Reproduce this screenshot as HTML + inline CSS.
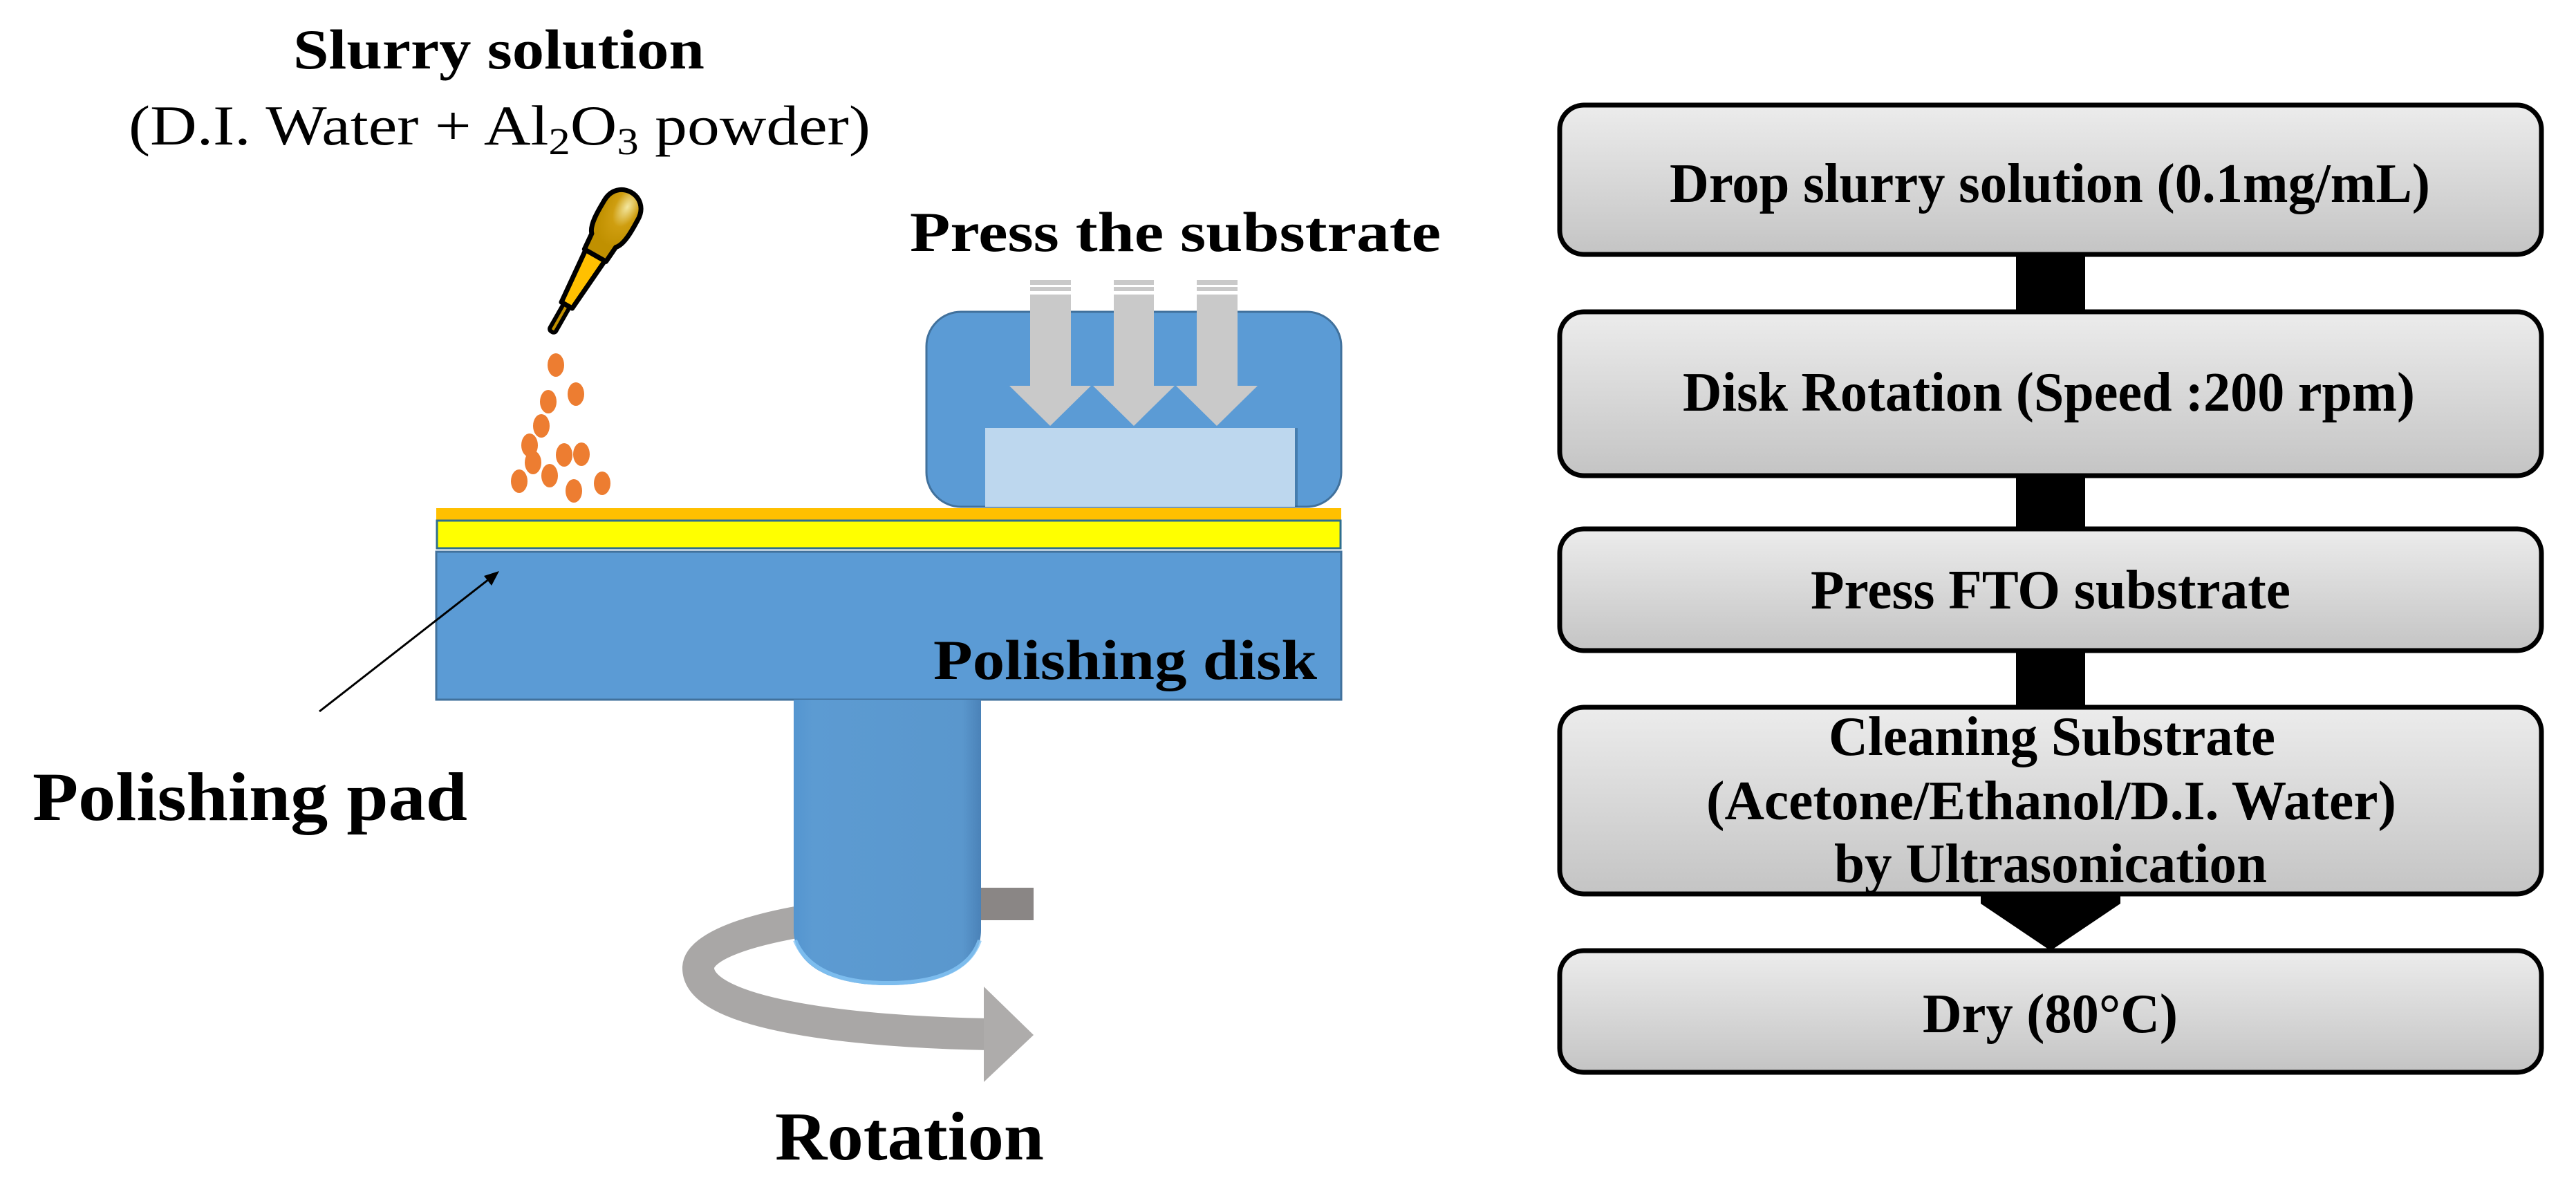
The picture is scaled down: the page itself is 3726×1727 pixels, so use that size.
<!DOCTYPE html>
<html><head><meta charset="utf-8"><style>
html,body{margin:0;padding:0;background:#fff;}
svg{display:block;}
text{font-family:"Liberation Serif",serif;}
</style></head><body>
<svg width="3726" height="1727" viewBox="0 0 3726 1727" xmlns="http://www.w3.org/2000/svg">
<defs>
<linearGradient id="bx" x1="0" y1="0" x2="0" y2="1">
<stop offset="0" stop-color="#ececec"/><stop offset="1" stop-color="#c4c4c4"/>
</linearGradient>
<linearGradient id="cyl" x1="0" y1="0" x2="1" y2="0">
<stop offset="0" stop-color="#5495d0"/><stop offset="0.1" stop-color="#5c9bd2"/><stop offset="0.9" stop-color="#5a97cd"/><stop offset="1" stop-color="#4a82b8"/>
</linearGradient>
<radialGradient id="bulb" cx="0.6" cy="0.2" r="0.6">
<stop offset="0" stop-color="#f3e7a0"/><stop offset="0.5" stop-color="#cf9e10"/><stop offset="1" stop-color="#c09000"/>
</radialGradient>
</defs>

<!-- Left texts -->
<text x="424" y="99" font-size="82" font-weight="bold" textLength="595" lengthAdjust="spacingAndGlyphs">Slurry solution</text>
<text x="186" y="209" font-size="82" textLength="1073" lengthAdjust="spacingAndGlyphs">(D.I. Water + Al<tspan font-size="55" dy="14">2</tspan><tspan dy="-14">O</tspan><tspan font-size="55" dy="14">3</tspan><tspan dy="-14"> powder)</tspan></text>

<!-- dropper -->
<g transform="translate(799,478) rotate(29.7)">
<rect x="-5" y="-45" width="10" height="47" rx="4" fill="#c09000" stroke="#000" stroke-width="6"/>
<path d="M-9,-42 L9,-42 L16,-125 L-16,-125 Z" fill="#ffc000" stroke="#000" stroke-width="7" stroke-linejoin="round"/>
<path d="M-18,-125 L18,-125 L20,-150 C30,-160 28,-190 28,-200 C28,-240 -28,-240 -28,-200 C-28,-190 -30,-160 -20,-150 Z" fill="url(#bulb)" stroke="#000" stroke-width="7" stroke-linejoin="round"/>
</g>

<!-- dots -->
<g fill="#ed7d31">
<ellipse cx="804" cy="528" rx="12" ry="17"/>
<ellipse cx="833" cy="570" rx="12" ry="17"/>
<ellipse cx="793" cy="581" rx="12" ry="17"/>
<ellipse cx="783" cy="616" rx="12" ry="17"/>
<ellipse cx="766" cy="644" rx="12" ry="17"/>
<ellipse cx="816" cy="658" rx="12" ry="17"/>
<ellipse cx="841" cy="657" rx="12" ry="17"/>
<ellipse cx="771" cy="669" rx="12" ry="17"/>
<ellipse cx="795" cy="688" rx="12" ry="17"/>
<ellipse cx="751" cy="696" rx="12" ry="17"/>
<ellipse cx="830" cy="710" rx="12" ry="17"/>
<ellipse cx="871" cy="699" rx="12" ry="17"/>
</g>

<!-- press box -->
<rect x="1340" y="451" width="600" height="282" rx="50" fill="#5b9bd5" stroke="#41719c" stroke-width="3"/>
<rect x="1429" y="619" width="448" height="114" fill="#2f5f8a" opacity="0.5"/>
<rect x="1425" y="619" width="448" height="114" fill="#bdd7ee"/>
<g fill="#c9c9c9">
<rect x="1490" y="405" width="59" height="155"/><path d="M1460,558 L1578,558 L1519,616 Z"/>
<rect x="1611" y="405" width="58" height="155"/><path d="M1581,558 L1699,558 L1640,616 Z"/>
<rect x="1731" y="405" width="59" height="155"/><path d="M1701,558 L1819,558 L1760,616 Z"/>
</g>
<g fill="#fff">
<rect x="1490" y="412" width="300" height="3"/><rect x="1490" y="421" width="300" height="5"/>
</g>
<g fill="#fff"><rect x="1549" y="400" width="62" height="25"/><rect x="1669" y="400" width="62" height="25"/></g>
<text x="1316" y="363" font-size="82" font-weight="bold" textLength="768" lengthAdjust="spacingAndGlyphs">Press  the substrate</text>

<!-- pad layers -->
<rect x="631" y="735" width="1309" height="18" fill="#ffc000"/>
<rect x="632" y="753" width="1307" height="40" fill="#ffff00" stroke="#2e6e8e" stroke-width="3"/>
<rect x="631" y="798" width="1309" height="214" fill="#5b9bd5" stroke="#41719c" stroke-width="3"/>
<text x="1350" y="982" font-size="82" font-weight="bold" textLength="555" lengthAdjust="spacingAndGlyphs">Polishing disk</text>

<!-- rotation arrow -->
<path d="M1495,1307 L1419,1307 C1250,1315 1010,1340 1010,1400 C1010,1470 1250,1493 1430,1496" fill="none" stroke="#a9a7a6" stroke-width="46"/>
<rect x="1419" y="1284" width="76" height="47" fill="#8a8685"/>
<path d="M1423,1427 L1495,1497 L1423,1565 Z" fill="#aeacab"/>

<!-- cylinder -->
<path d="M1148,1012 L1419,1012 L1419,1345 C1419,1400 1360,1425 1284,1425 C1208,1425 1148,1400 1148,1345 Z" fill="url(#cyl)"/>
<path d="M1150,1360 C1170,1410 1230,1422 1284,1422 C1340,1422 1400,1410 1417,1360" fill="none" stroke="#86c6f5" stroke-width="6" opacity="0.8"/>

<!-- pad label arrow -->
<line x1="462" y1="1029" x2="712" y2="834" stroke="#000" stroke-width="3"/>
<path d="M722,826 L700,833 L711,847 Z" fill="#000"/>
<text x="47" y="1186" font-size="100" font-weight="bold" textLength="629" lengthAdjust="spacingAndGlyphs">Polishing pad</text>
<text x="1121" y="1677" font-size="100" font-weight="bold" textLength="389" lengthAdjust="spacingAndGlyphs">Rotation</text>

<!-- Flowchart -->
<g fill="#000">
<rect x="2916" y="365" width="100" height="90"/>
<rect x="2916" y="685" width="100" height="85"/>
<rect x="2916" y="938" width="100" height="90"/>
<path d="M2865,1290 L3067,1290 L3067,1307 L2966,1375 L2865,1307 Z"/>
</g>
<g fill="url(#bx)" stroke="#000" stroke-width="7">
<rect x="2256" y="152" width="1420" height="216" rx="35"/>
<rect x="2256" y="451" width="1420" height="237" rx="35"/>
<rect x="2256" y="765" width="1420" height="176" rx="35"/>
<rect x="2256" y="1023" width="1420" height="270" rx="35"/>
<rect x="2256" y="1375" width="1420" height="176" rx="35"/>
</g>
<g font-size="80" font-weight="bold" fill="#000">
<text x="2415" y="292" textLength="1100" lengthAdjust="spacingAndGlyphs">Drop slurry solution (0.1mg/mL)</text>
<text x="2434" y="594" textLength="1059" lengthAdjust="spacingAndGlyphs">Disk Rotation (Speed :200 rpm)</text>
<text x="2619" y="880" textLength="694" lengthAdjust="spacingAndGlyphs">Press FTO substrate</text>
<text x="2645" y="1092" textLength="646" lengthAdjust="spacingAndGlyphs">Cleaning Substrate</text>
<text x="2468" y="1185" textLength="998" lengthAdjust="spacingAndGlyphs">(Acetone/Ethanol/D.I. Water)</text>
<text x="2653" y="1276" textLength="626" lengthAdjust="spacingAndGlyphs">by Ultrasonication</text>
<text x="2781" y="1493" textLength="369" lengthAdjust="spacingAndGlyphs">Dry (80°C)</text>
</g>
</svg>
</body></html>
